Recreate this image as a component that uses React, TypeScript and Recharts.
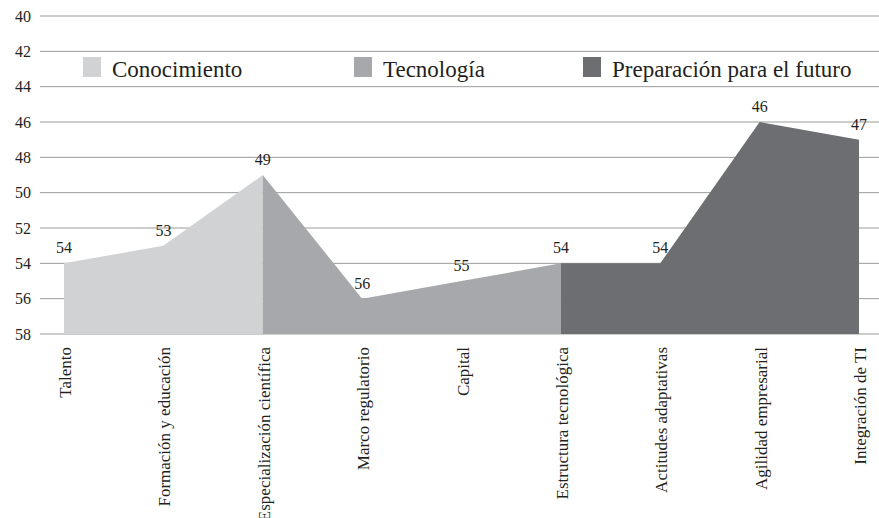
import React from 'react'
import {
  ComposedChart, Area, Line, XAxis, YAxis, CartesianGrid, LabelList
} from 'recharts'

const categories = [
  'Talento',
  'Formación y educación',
  'Especialización científica',
  'Marco regulatorio',
  'Capital',
  'Estructura tecnológica',
  'Actitudes adaptativas',
  'Agilidad empresarial',
  'Integración de TI',
]

// posición en el ranking (menor es mejor)
const values = [54, 53, 49, 56, 55, 54, 54, 46, 47]

// cada pilar comparte el punto de unión con el siguiente
const conocimiento = [54, 53, 49, null, null, null, null, null, null]
const tecnologia = [null, null, 49, 56, 55, 54, null, null, null]
const preparacion = [null, null, null, null, null, 54, 54, 46, 47]

const yTicks = [40, 42, 44, 46, 48, 50, 52, 54, 56, 58]

const series = [
  { key: 'conocimiento', name: 'Conocimiento', color: '#d1d2d4' },
  { key: 'tecnologia', name: 'Tecnología', color: '#a7a8ab' },
  { key: 'preparacion', name: 'Preparación para el futuro', color: '#6d6e71' },
]

const data = categories.map((name, i) => ({
  name,
  value: values[i],
  conocimiento: conocimiento[i],
  tecnologia: tecnologia[i],
  preparacion: preparacion[i],
}))

const FONT = '"Liberation Serif", serif'
const TEXT = '#231f20'

function CategoryTick(props: any) {
  const { x, y, payload } = props
  return (
    <text
      transform={`translate(${x},${y + 13}) rotate(-90)`}
      textAnchor="end"
      dy={7}
      fontSize={17}
      fontFamily={FONT}
      fill={TEXT}
    >
      {payload.value}
    </text>
  )
}

// la leyenda va dentro del área de trazado, entre las líneas 42 y 44
const legendLeft = [83, 354, 583]

function LegendRow() {
  return (
    <div style={{ position: 'absolute', left: 0, top: 0, width: 879, height: 100, pointerEvents: 'none' }}>
      {series.map((s, i) => (
        <div
          key={s.key}
          style={{
            position: 'absolute',
            left: legendLeft[i],
            top: 57,
            display: 'flex',
            alignItems: 'center',
            fontFamily: FONT,
            fontSize: 23,
            color: TEXT,
            whiteSpace: 'nowrap',
          }}
        >
          <span style={{ display: 'inline-block', width: 18, height: 20, background: s.color, marginRight: 11 }} />
          <span style={{ lineHeight: '20px', position: 'relative', top: 3 }}>{s.name}</span>
        </div>
      ))}
    </div>
  )
}

export default function App() {
  return (
    <div style={{ position: 'absolute', left: 0, top: 0, width: 879, height: 518, background: '#fff', fontFamily: FONT }}>
      <ComposedChart
        width={879}
        height={518}
        data={data}
        margin={{ top: 16, right: 0, bottom: 0, left: 0 }}
      >
        <CartesianGrid vertical={false} stroke="#9b9b9b" />
        <XAxis
          dataKey="name"
          interval={0}
          height={184}
          padding={{ left: 24, right: 20 }}
          tickLine={false}
          axisLine={false}
          tickSize={0}
          tickMargin={0}
          tick={<CategoryTick />}
        />
        <YAxis
          reversed
          type="number"
          domain={[40, 58]}
          ticks={yTicks}
          interval={0}
          width={40}
          tickLine={false}
          axisLine={false}
          tickSize={0}
          tickMargin={9}
          tick={{ fontSize: 16, fontFamily: FONT, fill: TEXT }}
        />
        {series.map((s) => (
          <Area
            key={s.key}
            dataKey={s.key}
            name={s.name}
            type="linear"
            baseValue={58}
            stroke="none"
            fill={s.color}
            fillOpacity={1}
            dot={false}
            activeDot={false}
            isAnimationActive={false}
          />
        ))}
        <Line
          dataKey="value"
          type="linear"
          stroke="none"
          dot={false}
          activeDot={false}
          legendType="none"
          isAnimationActive={false}
        >
          <LabelList
            dataKey="value"
            position="top"
            offset={10}
            fontSize={16}
            fontFamily={FONT}
            fill={TEXT}
          />
        </Line>
      </ComposedChart>
      <LegendRow />
    </div>
  )
}
